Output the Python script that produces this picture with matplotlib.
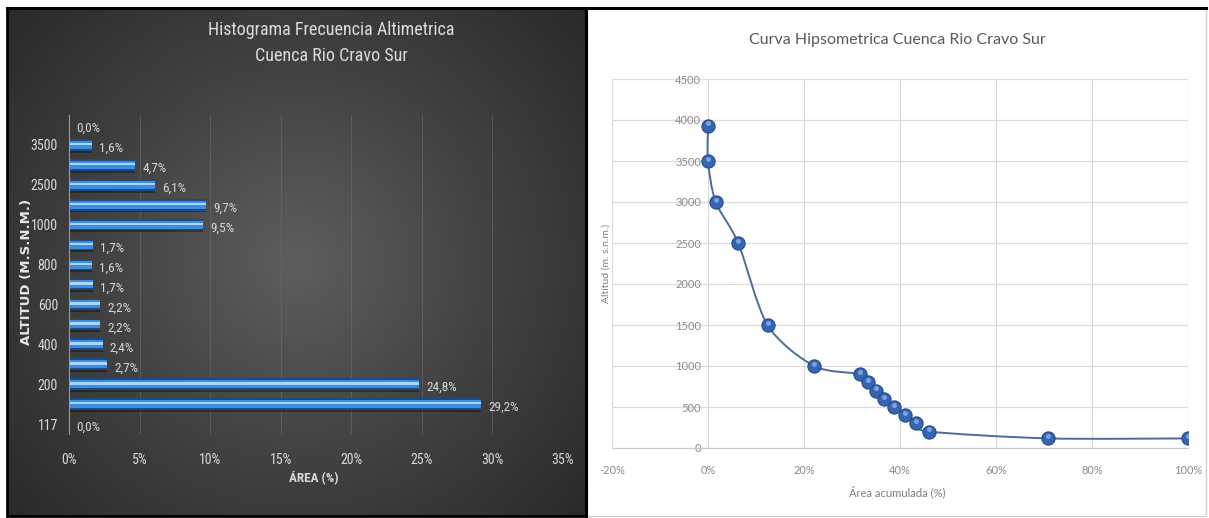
import numpy as np
import matplotlib.pyplot as plt
from matplotlib.colors import LinearSegmentedColormap
from matplotlib.path import Path
from matplotlib.patches import PathPatch, Rectangle

# histograma: porcentaje de area por cota (de abajo hacia arriba)
altitudes = [117, 150, 200, 300, 400, 500, 600, 700, 800, 900, 1000, 1500, 2500, 3000, 3500, 3930]
area_pct = [0.0, 29.2, 24.8, 2.7, 2.4, 2.2, 2.2, 1.7, 1.6, 1.7, 9.5, 9.7, 6.1, 4.7, 1.6, 0.0]
xticks_hist = [0, 5, 10, 15, 20, 25, 30, 35]

# curva hipsometrica
area_acum = [0, 0, 1.6, 6.3, 12.4, 22.1, 31.6, 33.3, 34.9, 36.6, 38.8, 41.0, 43.4, 46.1, 70.9, 100.0]
alt_curva = [3930, 3500, 3000, 2500, 1500, 1000, 900, 800, 700, 600, 500, 400, 300, 200, 117, 117]
xticks_curva = [-20, 0, 20, 40, 60, 80, 100]
yticks_curva = [0, 500, 1000, 1500, 2000, 2500, 3000, 3500, 4000, 4500]

W, H = 1209, 518
NARROW = ["Liberation Sans Narrow", "Roboto Condensed", "DejaVu Sans Condensed", "Roboto"]
CALIBRI = ["Lato", "DejaVu Sans"]


def box(x0, y0, x1, y1):
    return [x0 / W, 1 - y1 / H, (x1 - x0) / W, (y1 - y0) / H]


fig = plt.figure(figsize=(W / 100, H / 100), dpi=100)
fig.patch.set_facecolor("white")

# ---- panel izquierdo: fondo oscuro con degradado radial ----
bg = fig.add_axes(box(7, 8, 586, 516))
gx, gy = np.meshgrid(np.linspace(0, 1, 300), np.linspace(0, 1, 260))
r = np.sqrt(((gx - 0.5) / 0.75) ** 2 + ((gy - 0.5) / 0.85) ** 2)
cmap_bg = LinearSegmentedColormap.from_list("bg", ["#5e5e5e", "#424242", "#292929"])
bg.imshow(np.clip(r, 0, 1), cmap=cmap_bg, aspect="auto", extent=[0, 1, 0, 1], vmin=0, vmax=0.9)
bg.set_axis_off()

ax1 = fig.add_axes(box(69, 115, 563, 434))
ax1.set_facecolor("none")
y = np.arange(len(altitudes))
ax1.barh(y - 0.14, area_pct, height=0.5, color="black", alpha=0.35)
ax1.barh(y, area_pct, height=0.58, color="#1d4a82")
ax1.barh(y, area_pct, height=0.4, color="#3a8de0")
ax1.barh(y + 0.04, area_pct, height=0.12, color="#a9d6ff")
for i, v in enumerate(area_pct):
    ax1.text(v + 0.5, i - 0.18, f"{v:.1f}%".replace(".", ","), color="#d6d6d6",
             fontsize=9.5, family=NARROW, va="center", ha="left")

ax1.set_xlim(0, 35)
ax1.set_ylim(-0.5, len(altitudes) - 0.5)
ax1.set_xticks(xticks_hist)
ax1.set_xticklabels([f"{t}%" for t in xticks_hist], family=NARROW, fontsize=10, color="#d9d9d9")
ax1.set_yticks(y[::2])
ax1.set_yticklabels([str(a) for a in altitudes[::2]], family=NARROW, fontsize=10, color="#d9d9d9")
ax1.tick_params(length=0)
ax1.tick_params(axis="x", pad=14)
ax1.tick_params(axis="y", pad=8)
ax1.grid(axis="x", color="#707070", lw=0.6, alpha=0.6)
ax1.set_axisbelow(True)
for s in ["top", "right", "bottom"]:
    ax1.spines[s].set_visible(False)
ax1.spines["left"].set_color("#9a9a9a")
ax1.spines["left"].set_linewidth(0.8)

fig.text(331 / W, 1 - 30 / H, "Histograma Frecuencia Altimetrica", ha="center", va="center",
         fontsize=13, family=NARROW, color="#dcdcdc")
fig.text(331 / W, 1 - 56 / H, "Cuenca Rio Cravo Sur", ha="center", va="center",
         fontsize=13, family=NARROW, color="#dcdcdc")
fig.text(314 / W, 1 - 478 / H, "ÁREA (%)", ha="center", va="center",
         fontsize=9.5, family=NARROW, color="#d9d9d9", fontweight="bold")
fig.text(27 / W, 1 - 272 / H, "ALTITUD (M.S.N.M.)", ha="center", va="center", rotation=90,
         fontsize=9.5, color="#e6e6e6", fontweight="bold")

# ---- panel derecho: curva hipsometrica ----
ax2 = fig.add_axes(box(612, 79, 1188, 448))
ax2.spines["left"].set_position(("data", 0))
ax2.spines["left"].set_visible(False)
ax2.spines["top"].set_visible(False)
ax2.spines["right"].set_visible(False)
ax2.spines["bottom"].set_color("#c8c8c8")
ax2.set_xlim(-20, 100)
ax2.set_ylim(0, 4500)
ax2.set_xticks(xticks_curva)
ax2.set_xticklabels([f"{t}%" for t in xticks_curva], family=CALIBRI, fontsize=8, color="#8a8a8a")
ax2.set_yticks(yticks_curva)
ax2.set_yticklabels([str(t) for t in yticks_curva], family=CALIBRI, fontsize=8, color="#8a8a8a")
ax2.grid(color="#dcdcdc", lw=0.9)
ax2.set_axisbelow(True)
ax2.tick_params(length=0)
ax2.tick_params(axis="x", pad=12)
ax2.tick_params(axis="y", pad=5)

# linea suavizada (bezier tipo catmull-rom entre los puntos)
px = np.array(area_acum, dtype=float)
py = np.array(alt_curva, dtype=float)
n = len(px)
verts = [(px[0], py[0])]
codes = [Path.MOVETO]
for i in range(n - 1):
    p0 = np.array([px[max(i - 1, 0)], py[max(i - 1, 0)]])
    p1 = np.array([px[i], py[i]])
    p2 = np.array([px[i + 1], py[i + 1]])
    p3 = np.array([px[min(i + 2, n - 1)], py[min(i + 2, n - 1)]])
    c1 = p1 + (p2 - p0) / 7
    c2 = p2 - (p3 - p1) / 7
    verts += [tuple(c1), tuple(c2), tuple(p2)]
    codes += [Path.CURVE4] * 3
ax2.add_patch(PathPatch(Path(verts, codes), fc="none", ec="#4a6d9c", lw=1.4, zorder=3))
ax2.plot(px, py, ls="none", marker="o", ms=9.5, mfc="#3566b4", mec="#254a85", mew=0.8, zorder=4)
ax2.plot(px, py + 28, ls="none", marker="o", ms=3.5, mfc="#8fb3e6", mec="none", alpha=0.8, zorder=5)

fig.text(897 / W, 1 - 40 / H, "Curva Hipsometrica Cuenca Rio Cravo Sur", ha="center", va="center",
         fontsize=11.5, family=CALIBRI, color="#595959")
fig.text(897 / W, 1 - 492 / H, "Área acumulada (%)", ha="center", va="center",
         fontsize=8, family=CALIBRI, color="#7f7f7f")
fig.text(606 / W, 1 - 263 / H, "Altitud (m. s.n.m.)", ha="center", va="center", rotation=90,
         fontsize=7.5, family=CALIBRI, color="#7f7f7f")

# marcos
fig.patches.append(Rectangle((7 / W, 1 - 516 / H), 579 / W, 508 / H, transform=fig.transFigure,
                             fill=False, ec="black", lw=2))
fig.patches.append(Rectangle((587 / W, 1 - 516 / H), 619 / W, 508 / H, transform=fig.transFigure,
                             fill=False, ec="#cfcfcf", lw=1))
fig.lines.append(plt.Line2D([7 / W, 1206 / W], [1 - 8 / H, 1 - 8 / H], transform=fig.transFigure,
                            color="black", lw=2.2))
fig.lines.append(plt.Line2D([586 / W, 586 / W], [1 - 8 / H, 1 - 516 / H], transform=fig.transFigure,
                            color="black", lw=2.2))

fig.savefig("out.png", dpi=100)
